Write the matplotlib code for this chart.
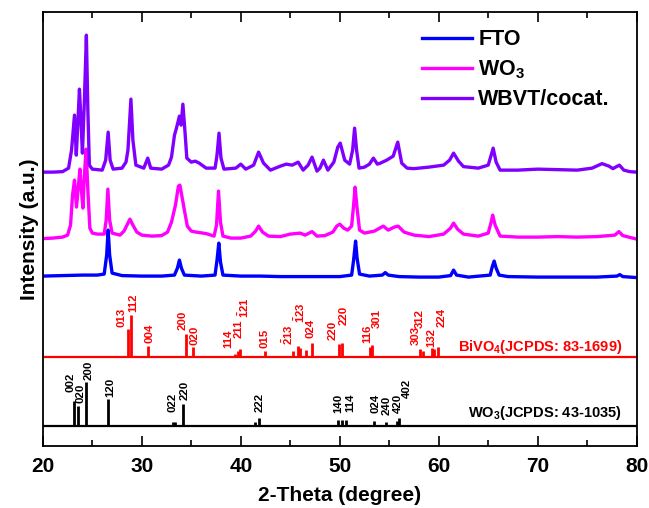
import matplotlib
matplotlib.use("Agg")
import matplotlib.pyplot as plt
import numpy as np

plt.rcParams['font.family'] = ['Liberation Sans', 'DejaVu Sans']
plt.rcParams['font.weight'] = 'bold'
plt.rcParams['mathtext.fontset'] = 'custom'
plt.rcParams['mathtext.rm'] = 'Liberation Sans:bold'
plt.rcParams['mathtext.it'] = 'Liberation Sans:bold'
plt.rcParams['mathtext.bf'] = 'Liberation Sans:bold'
plt.rcParams['mathtext.default'] = 'bf'

# --- measured XRD traces (2-theta, intensity a.u., already stacked) ---
tt_fto = [20, 22, 24, 25.5, 26.2, 26.45, 26.6, 26.75, 27.0, 28, 30, 32, 33.3, 33.6, 33.8, 34.0,
          34.3, 36, 37.4, 37.6, 37.78, 37.95, 38.2, 40, 42, 44, 46, 48, 50, 51.2, 51.4, 51.6,
          51.75, 52.0, 53, 54.3, 54.6, 54.9, 56, 58, 60, 61.2, 61.5, 61.8, 63, 65.2, 65.4, 65.6,
          65.8, 66.1, 67, 70, 72, 74, 76, 78.0, 78.3, 78.6, 80]
int_fto = [170, 170.5, 171, 171, 172, 191, 216, 191, 173, 170.5, 170, 170, 171, 178, 186, 178,
           171, 170, 171, 186, 203, 184, 171, 170, 170, 169.5, 169.5, 169.5, 169.5, 171, 186, 205,
           188, 172, 170, 171, 173.5, 171, 169.5, 169, 169, 170.5, 176, 171, 169, 171, 179, 185,
           178, 171, 169.5, 169, 169, 169, 169, 170, 171.5, 169.5, 168.5]

tt_wo3 = [20, 21, 22, 22.5, 22.8, 23.0, 23.2, 23.4, 23.6, 23.75, 23.9, 24.05, 24.2, 24.37, 24.55,
          24.75, 25.0, 25.5, 26.2, 26.4, 26.57, 26.75, 27.0, 27.8, 28.2, 28.5, 28.8, 29.1, 29.5,
          30, 31, 32, 32.6, 33.0, 33.4, 33.7, 33.85, 34.05, 34.3, 34.6, 35, 35.5, 36.5, 37.3,
          37.55, 37.75, 37.95, 38.2, 39, 40, 41, 41.5, 41.8, 42.2, 42.8, 44, 45, 46, 46.5, 47.2,
          47.7, 48.5, 49.3, 49.7, 50.0, 50.4, 50.8, 51.2, 51.4, 51.55, 51.75, 52.0, 52.5, 53.5,
          54.4, 54.9, 55.5, 55.9, 56.5, 57.5, 59, 60.5, 61.2, 61.5, 61.9, 62.5, 64, 65.0, 65.3,
          65.45, 65.7, 66.2, 68, 70, 72, 74, 76, 77.8, 78.2, 78.6, 80]
int_wo3 = [207.5, 208, 209, 211, 221, 251, 266, 239, 261, 277, 256, 238, 271, 297, 256,
           218, 213, 212, 212, 226, 257, 226, 213, 211, 215, 221, 227, 221, 214,
           211, 210, 210.5, 214, 224, 241, 260, 261, 250, 236, 220, 215, 214, 212.5, 210,
           221, 255, 224, 210, 208, 208, 210, 215, 220, 214, 210, 209.5, 212, 213, 211, 214.5,
           210, 210.5, 214, 220, 222, 218, 216, 220, 241, 259, 238, 216, 213, 215,
           220, 216, 219, 220, 214, 211, 209.5, 212, 218, 223, 217, 212, 210, 213, 224,
           231, 221, 210, 209, 209, 209.5, 209, 209.5, 211, 214.5, 210.5, 207]

tt_wbvt = [20, 21, 22, 22.6, 22.9, 23.2, 23.38, 23.55, 23.7, 23.85, 24.0, 24.2, 24.4, 24.55, 24.7,
           25.0, 26.0, 26.35, 26.6, 26.8, 27.1, 28.0, 28.4, 28.6, 28.9, 29.1, 29.4, 30.2, 30.6,
           30.9, 32, 32.7, 33.0, 33.3, 33.5, 33.8, 33.97, 34.15, 34.35, 34.55, 35.0, 35.4, 35.8,
           36.5, 37.4, 37.6, 37.8, 38.0, 38.3, 39.5, 40.0, 40.5, 41.3, 41.8, 42.3, 43.0, 44.0,
           44.6, 45.2, 45.8, 46.3, 46.8, 47.2, 47.7, 48.0, 48.35, 48.8, 49.4, 49.8, 50.05, 50.5,
           51.0, 51.3, 51.5, 51.7, 51.95, 52.5, 53.0, 53.4, 53.8, 54.1, 54.75, 55.4, 55.86, 56.26,
           56.8, 57.5, 59, 60.5, 61.1, 61.5, 62.0, 62.5, 64, 65.0, 65.3, 65.5, 65.8, 66.2, 68, 70,
           72, 74, 75.5, 76.5, 77.2, 77.6, 78.25, 78.7, 79.3, 80]
int_wbvt = [274, 274, 274.5, 278, 296, 331, 291, 326, 357, 326, 293, 346, 411, 336, 281,
            277, 276, 286, 314, 286, 277, 278, 284, 296, 347, 306, 281, 278, 288,
            278, 277, 281, 289, 311, 318, 330, 321, 342, 316, 288, 284, 285, 283,
            278, 278, 291, 313, 288, 277, 278, 282, 277, 281, 294, 283, 276, 280,
            282, 281, 284, 276, 281, 289, 275, 278, 286, 276, 284, 299, 303, 286,
            282, 296, 318, 296, 278, 279, 282, 288, 282, 283, 286, 290, 304, 283,
            278, 277.5, 279, 281, 286, 293, 285, 279.5, 278, 281, 291, 298, 284, 276, 276, 277,
            276.5, 276, 278, 282.5, 280, 277.5, 281, 276, 274.5, 274]

# --- standard cards (stick positions, relative intensities, hkl) ---
bivo4_pos = [28.6, 28.9, 30.6, 34.5, 35.2, 39.4, 39.7, 39.95, 42.4, 45.3, 45.75, 45.95, 46.6,
             47.2, 49.9, 50.25, 53.05, 53.3, 58.1, 58.4, 59.3, 59.55, 59.9]
bivo4_int = [28, 42, 11, 23, 10.5, 3, 6, 8, 6.5, 6.5, 11, 9, 7, 14.5, 13, 14.5, 10.5, 12,
             8.3, 6.5, 9, 8, 10]
bivo4_hkl = ['013', '112', '004', '200', '020', '114', '211', r'$\bar{1}$21', '015',
             r'$\bar{2}$13', r'$\bar{1}$23', '024', '220', '220', '116', '301', '303', '312',
             '132', '224']
# label anchor (2-theta, bottom) for each hkl text
bivo4_lab_x = [27.92, 29.09, 30.74, 34.1, 35.28, 38.69, 39.76, 40.33, 42.35, 44.78, 46.0,
               47.0, 49.29, 50.36, 52.73, 53.74, 57.71, 58.12, 59.29, 60.3]
bivo4_lab_y = [119.3, 134.3, 103, 116, 101, 98, 108, 127.7, 98, 101, 123, 108, 106, 121,
               103, 118, 101, 118, 99.3, 119.3]

wo3_pos = [23.1, 23.6, 24.35, 26.6, 33.2, 33.4, 34.15, 41.4, 41.8, 49.85, 50.25, 50.6, 53.5,
           54.7, 55.8, 56.0]
wo3_int = [25, 20, 44, 27, 3.5, 3.5, 22, 3.3, 7.3, 6, 6, 6, 5, 3.5, 5, 8]
wo3_hkl = ['002', '020', '200', '120', '022', '220', '222', '140', '114', '024', '240',
           '420', '402']
wo3_lab_x = [22.76, 23.84, 24.6, 26.8, 33.13, 34.37, 41.95, 49.86, 51.04, 53.57, 54.72,
             55.86, 56.83]
wo3_lab_y = [54.3, 42.7, 66, 49.3, 34.3, 46, 34.3, 32.7, 34.3, 33, 31, 33, 48]

bivo4_base = 89
wo3_base = 20.5

fig = plt.figure(figsize=(6.49, 5.08), dpi=100)
ax = fig.add_axes([0.066, 0.122, 0.915, 0.854])

ax.plot(tt_fto, int_fto, color='#0000ff', lw=2.4, label='FTO')
ax.plot(tt_wo3, int_wo3, color='#ff00ff', lw=2.4, label='WO$_3$')
ax.plot(tt_wbvt, int_wbvt, color='#8000ff', lw=2.4, label='WBVT/cocat.')

# BiVO4 card
ax.axhline(bivo4_base, color='#ff0000', lw=1.6)
ax.vlines(bivo4_pos, bivo4_base, bivo4_base + np.array(bivo4_int), color='#ff0000', lw=2.0)
for lab, x, y in zip(bivo4_hkl, bivo4_lab_x, bivo4_lab_y):
    ax.text(x, y, lab, rotation=90, ha='center', va='bottom', color='#ff0000',
            fontsize=8.2, fontweight='bold')
ax.text(61.96, 99.3, 'BiVO$_4$(JCPDS: 83-1699)', color='#ff0000', fontsize=10.5,
        fontweight='bold', va='center', ha='left')

# WO3 card
ax.axhline(wo3_base, color='black', lw=1.6)
ax.vlines(wo3_pos, wo3_base, wo3_base + np.array(wo3_int), color='black', lw=2.0)
for lab, x, y in zip(wo3_hkl, wo3_lab_x, wo3_lab_y):
    ax.text(x, y, lab, rotation=90, ha='center', va='bottom', color='black',
            fontsize=8.2, fontweight='bold')
ax.text(63.0, 32.7, 'WO$_3$(JCPDS: 43-1035)', color='black', fontsize=10.5,
        fontweight='bold', va='center', ha='left')

ax.set_xlim(20, 80)
ax.set_ylim(0, 434)
ax.set_xticks(np.arange(20, 81, 10))
ax.set_xticks(np.arange(25, 80, 10), minor=True)
ax.set_yticks([])
ax.tick_params(axis='x', which='both', direction='in', top=True, labelsize=15, width=1.2,
               pad=8)
ax.tick_params(axis='x', which='major', length=7)
ax.tick_params(axis='x', which='minor', length=4)
for lbl in ax.get_xticklabels():
    lbl.set_fontweight('bold')
for sp in ax.spines.values():
    sp.set_linewidth(1.3)

ax.set_xlabel('2-Theta (degree)', fontsize=15, fontweight='bold', labelpad=7)
ax.set_ylabel('Intensity (a.u.)', fontsize=15, fontweight='bold', labelpad=3)

ax.legend(loc='upper left', bbox_to_anchor=(0.61, 1.0), frameon=False,
          handlelength=2.3, handletextpad=0.3, labelspacing=0.38, borderaxespad=0.4,
          prop={'weight': 'bold', 'size': 15.5})

fig.savefig('out.png', dpi=100)
